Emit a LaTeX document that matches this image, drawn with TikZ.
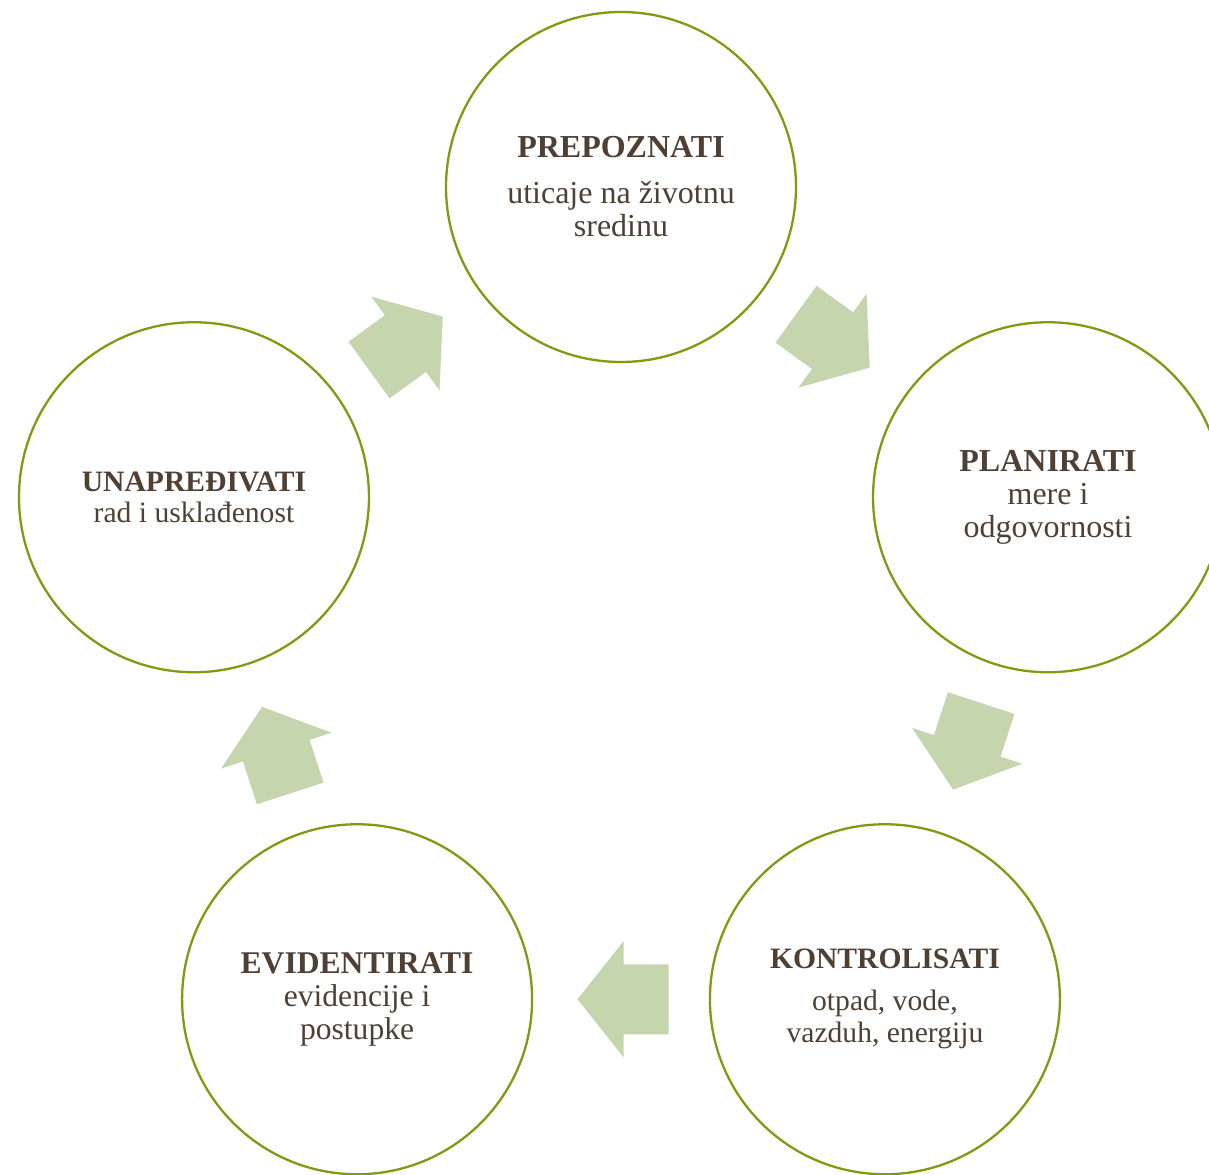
\documentclass[tikz,border=0pt]{standalone}
\usepackage{fontspec}
\setmainfont{Liberation Serif}
\usepackage{xcolor}
\usepackage{tikz}
\usetikzlibrary{calc}
\definecolor{ringc}{HTML}{7F9B12}
\definecolor{txtc}{HTML}{4F4033}
\definecolor{arrc}{HTML}{C5D5AE}
\tikzset{
  ring/.style={circle,draw=ringc,line width=1.15pt,minimum size=175pt,inner sep=0pt,align=center,text=txtc},
  blk/.style={fill=arrc}
}
\newcommand{\fsz}[2]{\fontsize{#1}{#2}\selectfont}

\begin{document}
\begin{tikzpicture}[x=0.5pt,y=0.5pt]
\useasboundingbox (0,0) rectangle (1209,1174);
\clip (0,0) rectangle (1209,1174);
\coordinate (ctr) at (621,538);
\node[ring,font=\fsz{16}{16.5}] (prep) at ($(ctr)+(90:449)$) {\textbf{PREPOZNATI}\\[6.5pt]uticaje na životnu\\sredinu};
\node[ring,font=\fsz{16}{16.5}] (plan) at ($(ctr)+(18:449)$) {\textbf{PLANIRATI}\\mere i\\odgovornosti};
\node[ring,font=\fsz{14.8}{16}] (kont) at ($(ctr)+(-54:449)$) {\textbf{KONTROLISATI}\\[5pt]otpad, vode,\\vazduh, energiju};
\node[ring,font=\fsz{15.8}{16.5}] (evid) at ($(ctr)+(-126:449)$) {\textbf{EVIDENTIRATI}\\evidencije i\\postupke};
\node[ring,font=\fsz{14.8}{15.5}] (unap) at ($(ctr)+(162:449)$) {\textbf{UNAPREĐIVATI}\\rad i usklađenost};
% block arrows between the rings
\foreach \a/\b/\r in {prep/plan/-36,plan/kont/-108,kont/evid/180,evid/unap/108,unap/prep/36}{
  \fill[blk,shift={($(\a)!0.5!(\b)$)},rotate=\r] (-47.5,35)--(-2.5,35)--(-2.5,58)--(43.5,0)--(-2.5,-58)--(-2.5,-35)--(-47.5,-35)--cycle;
}
\end{tikzpicture}
\end{document}
